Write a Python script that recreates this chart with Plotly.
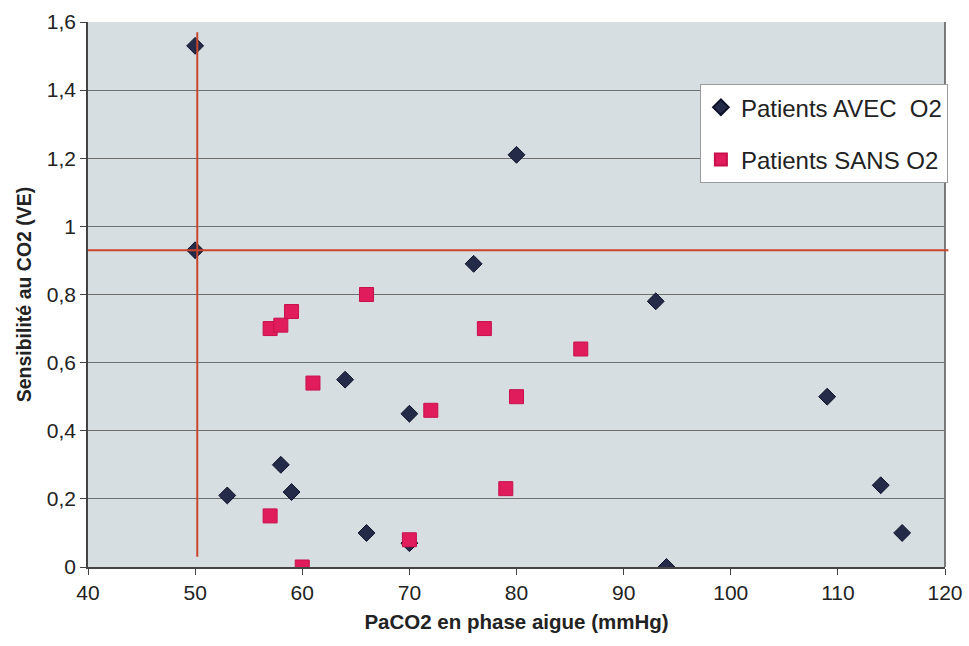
import plotly.graph_objects as go

# --- data ---
avec_x = [50, 50, 80, 76, 93, 64, 70, 109, 58, 53, 59, 114, 116, 66, 70, 94]
avec_y = [1.53, 0.93, 1.21, 0.89, 0.78, 0.55, 0.45, 0.50, 0.30, 0.21, 0.22, 0.24, 0.10, 0.10, 0.07, 0.00]

sans_x = [57, 58, 59, 66, 61, 77, 86, 72, 80, 79, 70, 57, 60]
sans_y = [0.70, 0.71, 0.75, 0.80, 0.54, 0.70, 0.64, 0.46, 0.50, 0.23, 0.08, 0.15, 0.00]

series_names = ["Patients AVEC\u00a0 O2", "Patients SANS O2"]

threshold_x = 50.2          # vertical reference line (PaCO2)
threshold_x_span = [0.03, 1.57]
threshold_y = 0.93          # horizontal reference line (sensitivity)

x_ticks = [40, 50, 60, 70, 80, 90, 100, 110, 120]
y_ticks = [0, 0.2, 0.4, 0.6, 0.8, 1.0, 1.2, 1.4, 1.6]
y_ticktext = ["0", "0,2", "0,4", "0,6", "0,8", "1", "1,2", "1,4", "1,6"]

FONT = "Liberation Sans, Arial, sans-serif"
RED = "#c9452c"

fig = go.Figure()
fig.add_trace(go.Scatter(
    x=avec_x, y=avec_y, mode="markers", name=series_names[0], legendgroup="a",
    marker=dict(symbol="diamond", size=13, color="#242b48",
                line=dict(color="#10142a", width=1)),
))
fig.add_trace(go.Scatter(
    x=sans_x, y=sans_y, mode="markers", name=series_names[1], legendgroup="b",
    marker=dict(symbol="square", size=14, color="#e01c5c",
                line=dict(color="#c8104c", width=1)),
))

fig.add_shape(type="line", xref="x", yref="y",
              x0=threshold_x, x1=threshold_x,
              y0=threshold_x_span[0], y1=threshold_x_span[1],
              line=dict(color=RED, width=2), layer="above")
fig.add_shape(type="line", xref="paper", yref="y",
              x0=0, x1=1.004, y0=threshold_y, y1=threshold_y,
              line=dict(color=RED, width=2), layer="above")
# right frame border
fig.add_shape(type="line", xref="paper", yref="paper",
              x0=1, x1=1, y0=0, y1=1,
              line=dict(color="#555555", width=1.5), layer="below")

fig.update_layout(
    width=969, height=646, autosize=False,
    margin=dict(l=88, r=24, t=22, b=79),
    paper_bgcolor="white",
    plot_bgcolor="#d7dee2",
    font=dict(family=FONT, size=20, color="#222222"),
    showlegend=True,
    legend=dict(
        x=0.714, y=0.886, xanchor="left", yanchor="top",
        bgcolor="white", bordercolor="#9a9a9a", borderwidth=1,
        font=dict(family=FONT, size=24, color="#222222"),
        traceorder="grouped", tracegroupgap=18,
        itemsizing="constant",
    ),
    xaxis=dict(
        range=[40, 120], tickvals=x_ticks, showgrid=False, zeroline=False,
        showline=True, linecolor="#444444", linewidth=1.5,
        ticks="outside", ticklen=6, tickcolor="#444444",
        tickfont=dict(size=21), automargin=False,
        title=dict(text="<b>PaCO2 en phase aigue (mmHg)</b>",
                   font=dict(size=20.5), standoff=12),
    ),
    yaxis=dict(
        range=[0, 1.6], tickvals=y_ticks, ticktext=y_ticktext,
        showgrid=True, gridcolor="#6f6f6f", gridwidth=1, zeroline=False,
        showline=True, linecolor="#444444", linewidth=1.5,
        ticks="outside", ticklen=6, tickcolor="#444444",
        tickfont=dict(size=21), automargin=False,
        title=dict(text="<b>Sensibilité au CO2 (VE)</b>",
                   font=dict(size=19.5), standoff=10),
    ),
)

fig.write_html("out.html", config={"displayModeBar": False},
               post_script="document.body.style.margin='0';")
